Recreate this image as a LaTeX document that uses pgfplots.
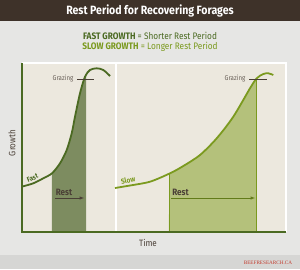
\documentclass[border=0pt]{standalone}
\usepackage{pgfplots}
\pgfplotsset{compat=1.18}
\usepgfplotslibrary{fillbetween}
\usepackage{fontspec}
\setmainfont{Fira Sans}[FakeStretch=0.88]
\newfontfamily\serifx{Liberation Serif}
\definecolor{topbar}{HTML}{3E3229}
\definecolor{bgg}{HTML}{E6E6E4}
\definecolor{bandg}{HTML}{D6D6D4}
\definecolor{beige}{HTML}{ECE8DE}
\definecolor{dkgreen}{HTML}{4B6A22}
\definecolor{olive}{HTML}{7B9A1F}
\definecolor{dkshade}{HTML}{7D8C60}
\definecolor{ltshade}{HTML}{B4C17B}
\definecolor{brownt}{HTML}{4A3F36}
\definecolor{greyt}{HTML}{6B625A}
\definecolor{redt}{HTML}{C23B2E}
\begin{document}
\begin{tikzpicture}
\begin{axis}[scale only axis, width=300pt, height=269pt,
  xmin=0, xmax=300, ymin=0, ymax=269, y dir=reverse,
  axis lines=none, clip=false, set layers]
% backgrounds
\begin{pgfonlayer}{axis background}
\fill[bgg] (axis cs:0,0) rectangle (axis cs:300,269);
\fill[bandg] (axis cs:0,255) rectangle (axis cs:300,269);
\fill[topbar] (axis cs:0,0) rectangle (axis cs:300,21);
\fill[white] (axis cs:22,62) rectangle (axis cs:287,232);
\fill[beige] (axis cs:22,64) rectangle (axis cs:114.5,232);
\fill[beige] (axis cs:116.5,64) rectangle (axis cs:285,232);
\end{pgfonlayer}
% titles
\node[text=white, font=\bfseries\fontsize{12}{14}\selectfont] at (axis cs:150,11) {Rest Period for Recovering Forages};
\node[font=\fontsize{9.4}{11}\selectfont, text=dkgreen] at (axis cs:150,35.5) {\textbf{FAST GROWTH} = Shorter Rest Period};
\node[font=\fontsize{9.4}{11}\selectfont, text=olive] at (axis cs:150,46.5) {\textbf{SLOW GROWTH} = Longer Rest Period};
% curves
\addplot[name path=fast, draw=none, smooth] coordinates {(21.7,186.7)(33.3,183.3)(43.3,178.3)(52,173.3)(60,163.3)(66.7,150)(71.7,133.3)(75,116.7)(80,93.3)(85,76.7)(90,70)(96.7,68.3)(103.3,70)(110,76)};
\addplot[name path=slow, draw=none, smooth] coordinates {(115,188)(130,185.5)(150,181.7)(170,173.3)(183.3,166)(200,155)(216.7,138.3)(233.3,116.7)(250,88.3)(256.7,78.3)(263.3,74)(268.3,73.3)(273.3,75)};
\path[name path=base] (axis cs:0,232) -- (axis cs:300,232);
\addplot[fill=dkshade, draw=none] fill between[of=fast and base, soft clip={domain=52:86}];
\addplot[fill=ltshade, draw=none] fill between[of=slow and base, soft clip={domain=169:256.7}];
\addplot[olive, line width=0.9pt] coordinates {(169,232)(169,173.1)};
\addplot[olive, line width=0.9pt] coordinates {(256.7,232)(256.7,78.3)};
\addplot[dkgreen, line width=1.8pt, smooth] coordinates {(21.7,186.7)(33.3,183.3)(43.3,178.3)(52,173.3)(60,163.3)(66.7,150)(71.7,133.3)(75,116.7)(80,93.3)(85,76.7)(90,70)(96.7,68.3)(103.3,70)(110,76)};
\addplot[olive, line width=1.8pt, smooth] coordinates {(115,188)(130,185.5)(150,181.7)(170,173.3)(183.3,166)(200,155)(216.7,138.3)(233.3,116.7)(250,88.3)(256.7,78.3)(263.3,74)(268.3,73.3)(273.3,75)};
% grazing lines
\addplot[brownt, line width=0.7pt] coordinates {(77,79)(94,79)};
\addplot[brownt, line width=0.7pt] coordinates {(249,79)(266.7,79)};
\node[text=greyt, font=\fontsize{7}{8}\selectfont] at (axis cs:63,79) {Grazing};
\node[text=greyt, font=\fontsize{7}{8}\selectfont] at (axis cs:235,79) {Grazing};
% rest arrows
\node[text=brownt, font=\bfseries\fontsize{9.2}{10}\selectfont] at (axis cs:64,192.5) {Rest};
\node[text=brownt, font=\bfseries\fontsize{9.2}{10}\selectfont] at (axis cs:180.5,192) {Rest};
\addplot[brownt, line width=0.5pt, -{latex}] coordinates {(55,198)(84,198)};
\addplot[olive!80!black, line width=0.5pt, -{latex}] coordinates {(171,198)(255,198)};
% curve labels
\node[text=dkgreen, font=\bfseries\fontsize{7}{8}\selectfont, rotate=22] at (axis cs:32.5,178) {Fast};
\node[text=olive, font=\bfseries\fontsize{7.4}{8}\selectfont, rotate=12] at (axis cs:128,180) {Slow};
% axes
\addplot[dkgreen, line width=1.4pt] coordinates {(22,63)(22,232)};
\addplot[dkgreen, line width=1.4pt] coordinates {(21.3,232)(286,232)};
\node[text=brownt, font=\fontsize{9.2}{10}\selectfont, rotate=90] at (axis cs:12,143) {Growth};
\node[text=brownt, font=\fontsize{9.2}{10}\selectfont] at (axis cs:148,243) {Time};
\node[text=redt, font=\serifx\fontsize{5.2}{6}\selectfont, inner sep=0pt] at (axis cs:268,263) {BEEFRESEARCH.CA};
\end{axis}
\end{tikzpicture}
\end{document}
